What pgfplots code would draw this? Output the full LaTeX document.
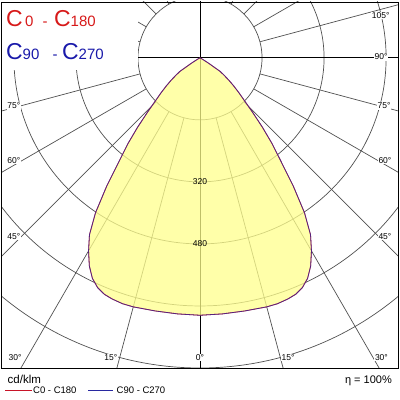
\documentclass[border=0pt]{standalone}
\usepackage{pgfplots}
\pgfplotsset{compat=1.18}
\usepackage{pgfplotstable}
\usepackage{fontspec}
\setmainfont{Liberation Sans}
\definecolor{fillY}{RGB}{255,255,140}
\definecolor{gridC}{RGB}{80,80,80}
\definecolor{tRed}{RGB}{215,25,25}
\definecolor{tBlue}{RGB}{25,25,170}
\definecolor{cRed}{RGB}{200,20,40}
\definecolor{cBlue}{RGB}{40,40,160}

% C0 - C180 : signed angle from nadir (deg), intensity (cd/klm)
\pgfplotstableread{
t I
-90 0
-80 0
-70 0
-64 0
-62 2
-60 8
-58 25
-56 63
-54 78
-52 96
-50 115
-48 136
-46 160
-44 195
-42 240
-40 290
-38 340
-36 410
-34 482
-32 538
-30 575
-28 608
-26 633
-24 649
-22 658
-20 662
-17.5 665
-15 665
-10 663
-5 663
0 664
5 663
10 663
15 665
17.5 665
20 662
22 658
24 649
26 633
28 608
30 575
32 538
34 482
36 410
38 340
40 290
42 240
44 195
46 160
48 136
50 115
52 96
54 78
56 63
58 25
60 8
62 2
64 0
70 0
80 0
90 0
}\lumA
% C90 - C270
\pgfplotstableread{
t I
-90 0
-80 0
-70 0
-64 0
-62 2
-60 8
-58 25
-56 63
-54 78
-52 96
-50 115
-48 136
-46 160
-44 195
-42 240
-40 290
-38 340
-36 410
-34 482
-32 538
-30 575
-28 608
-26 633
-24 649
-22 658
-20 662
-17.5 665
-15 665
-10 663
-5 663
0 664
5 663
10 663
15 665
17.5 665
20 662
22 658
24 649
26 633
28 608
30 575
32 538
34 482
36 410
38 340
40 290
42 240
44 195
46 160
48 136
50 115
52 96
54 78
56 63
58 25
60 8
62 2
64 0
70 0
80 0
90 0
}\lumB

\begin{document}
\begin{tikzpicture}[albl/.style={fill=white, inner sep=0.6pt, font=\fontsize{8.5}{9}\selectfont}]
\begin{axis}[
  at={(1.5pt,32pt)}, anchor=south west,
  scale only axis, width=397pt, height=366pt,
  xmin=-512, xmax=512, ymin=-800, ymax=144,
  xtick=\empty, ytick=\empty,
  axis line style={black, line width=0.8pt},
  axis on top,
  clip=true,
]
% grid circles
\draw[gridC, line width=0.7pt] (axis cs:0,0) circle[radius=160];
\draw[gridC, line width=0.7pt] (axis cs:0,0) circle[radius=320];
\draw[gridC, line width=0.7pt] (axis cs:0,0) circle[radius=480];
\draw[gridC, line width=0.7pt] (axis cs:0,0) circle[radius=640];
\draw[gridC, line width=0.7pt] (axis cs:0,0) circle[radius=800];
% radial lines
\pgfplotsinvokeforeach{-165,-150,-135,-120,-105,-75,-60,-45,-30,-15,15,30,45,60,75,105,120,135,150,165}{
  \addplot[gridC, line width=0.7pt, data cs=polar, forget plot] coordinates {(#1,160) (#1,1500)};
}
\addplot[black, line width=0.8pt, forget plot] coordinates {(-700,0) (700,0)};
\addplot[black, line width=0.8pt, forget plot] coordinates {(0,-900) (0,300)};
% white area behind the title
\fill[white] (axis cs:-520,-31) rectangle (axis cs:-161,150);
% fill
\addplot[draw=none, fill=fillY, fill opacity=0.75, data cs=polar, forget plot]
  table[x expr=\thisrow{t}-90, y=I]{\lumA};
% curves
\addplot[cRed, line width=0.8pt, data cs=polar] table[x expr=\thisrow{t}-90, y=I]{\lumA};
\addplot[cBlue, line width=0.8pt, opacity=0.7, data cs=polar] table[x expr=\thisrow{t}-90, y=I]{\lumB};
% ring labels
\node[font=\fontsize{8.5}{9}\selectfont] at (axis cs:0,-320) {320};
\node[font=\fontsize{8.5}{9}\selectfont] at (axis cs:0,-480) {480};
% angle labels
\node[albl] at (axis cs:-480,-124) {75°};
\node[albl] at (axis cs:-480,-265) {60°};
\node[albl] at (axis cs:-480,-461) {45°};
\node[albl] at (axis cs:475,-124) {75°};
\node[albl] at (axis cs:477,-265) {60°};
\node[albl] at (axis cs:477,-461) {45°};
\node[albl] at (axis cs:467,2) {90°};
\node[albl] at (axis cs:466,110) {105°};
\node[albl] at (axis cs:-477,-772) {30°};
\node[albl] at (axis cs:-230,-772) {15°};
\node[albl] at (axis cs:0,-772) {0°};
\node[albl] at (axis cs:227,-772) {15°};
\node[albl] at (axis cs:468,-772) {30°};
\end{axis}
% title
\node[anchor=base west, inner sep=0pt, text=tRed, font=\fontsize{23}{24}\selectfont] at (6pt,373pt) {C};
\node[anchor=base west, inner sep=0pt, text=tRed, font=\fontsize{15}{16}\selectfont] at (25pt,373pt) {0};
\node[anchor=base west, inner sep=0pt, text=tRed, font=\fontsize{15}{16}\selectfont] at (42.5pt,373pt) {-};
\node[anchor=base west, inner sep=0pt, text=tRed, font=\fontsize{23}{24}\selectfont] at (54pt,373pt) {C};
\node[anchor=base west, inner sep=0pt, text=tRed, font=\fontsize{15}{16}\selectfont] at (70.5pt,373pt) {180};
\node[anchor=base west, inner sep=0pt, text=tBlue, font=\fontsize{23}{24}\selectfont] at (6pt,340pt) {C};
\node[anchor=base west, inner sep=0pt, text=tBlue, font=\fontsize{15}{16}\selectfont] at (22.5pt,340pt) {90};
\node[anchor=base west, inner sep=0pt, text=tBlue, font=\fontsize{15}{16}\selectfont] at (52.5pt,340pt) {-};
\node[anchor=base west, inner sep=0pt, text=tBlue, font=\fontsize{23}{24}\selectfont] at (62pt,340pt) {C};
\node[anchor=base west, inner sep=0pt, text=tBlue, font=\fontsize{15}{16}\selectfont] at (78.5pt,340pt) {270};
% bottom texts
\node[anchor=base west, inner sep=0pt, font=\fontsize{11.5}{12}\selectfont] at (7.5pt,16.7pt) {cd/klm};
\node[anchor=base east, inner sep=0pt, font=\fontsize{11}{12}\selectfont] at (392pt,16.7pt) {η = 100\%};
\draw[cRed, line width=0.8pt] (5pt,10pt) -- (32pt,10pt);
\node[anchor=base west, inner sep=0pt, font=\fontsize{9.5}{10}\selectfont] at (33pt,6.3pt) {C0 - C180};
\draw[cBlue, line width=0.8pt] (88pt,10pt) -- (113pt,10pt);
\node[anchor=base west, inner sep=0pt, font=\fontsize{9.5}{10}\selectfont] at (116.5pt,6.3pt) {C90 - C270};
\pgfresetboundingbox
\path (0pt,0pt) rectangle (400pt,400pt);
\end{tikzpicture}
\end{document}
